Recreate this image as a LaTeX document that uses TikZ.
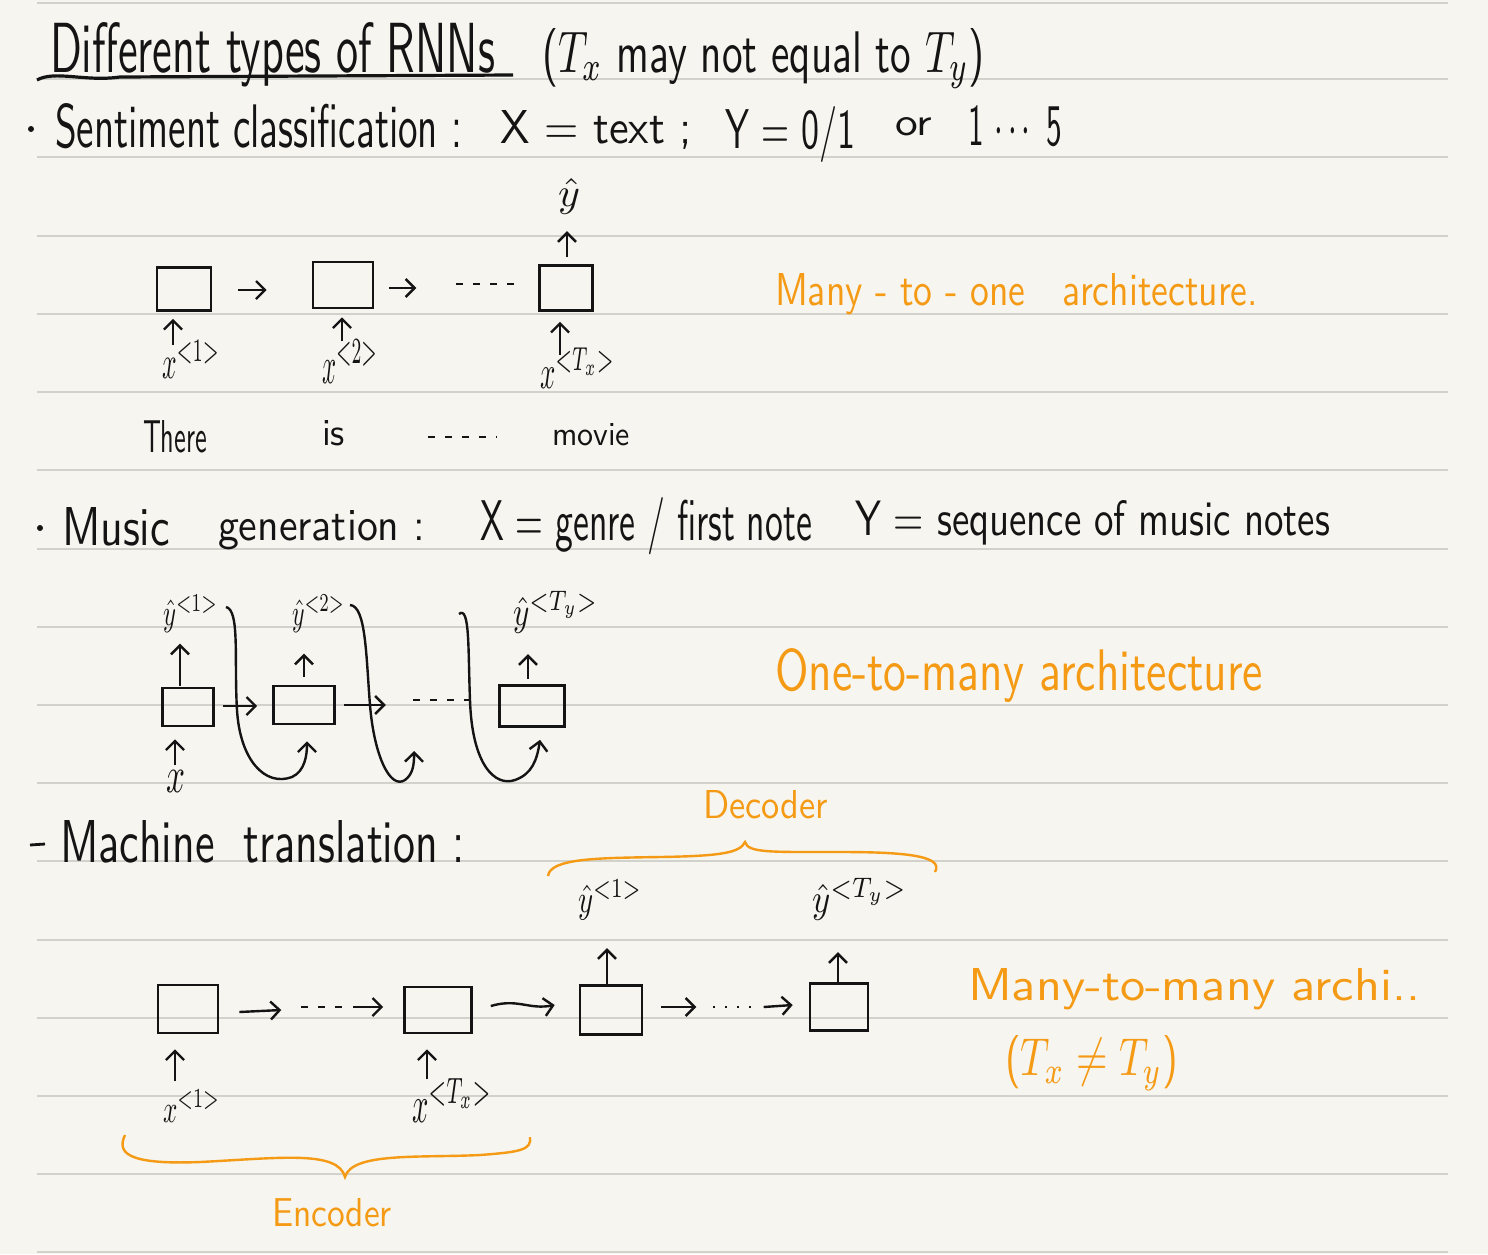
\documentclass[tikz,border=0pt]{standalone}
\usepackage{graphicx}
\usepackage{amsmath}
\usetikzlibrary{arrows.meta,calc}
\newlength\pxu \setlength\pxu{0.5pt}
\newcommand\hwfit[3]{\resizebox{#1\pxu}{#2\pxu}{#3}}
\definecolor{paper}{HTML}{F6F5EF}
\definecolor{ruleline}{HTML}{D2D2CD}
\definecolor{ink}{HTML}{141414}
\definecolor{hl}{HTML}{F59A14}
\tikzset{
  txt/.style={inner sep=0pt, outer sep=0pt, anchor=base west, font=\sffamily, text=ink},
  note/.style={txt, text=hl},
  cell/.style={draw=ink, line width=1.3pt, inner sep=0pt},
  arr/.style={-{Straight Barb[length=4.5pt,width=9pt]}, line width=1.2pt, draw=ink},
  pen/.style={line width=1.2pt, draw=ink},
  brace/.style={line width=1.2pt, draw=hl},
  dashln/.style={line width=1.1pt, draw=ink, dash pattern=on 7\pxu off 10\pxu},
  dotln/.style={line width=1.1pt, draw=ink, dash pattern=on 2\pxu off 10\pxu}
}
\begin{document}
\begin{tikzpicture}[x=0.5pt,y=-0.5pt]
\fill[paper] (0,0) rectangle (1488,1254);
\useasboundingbox (0,0) rectangle (1488,1254);
\foreach \yy in {3,79,157,236,314,392,470,549,627,705,783,861,940,1018,1096,1174,1252}
  \draw[ruleline, line width=1pt] (37,\yy) -- (1448,\yy);

% ---------- title ----------
\node[txt] (title) at (50,72) {\hwfit{445}{50}{Different types of RNNs}};
\draw[line width=1.6pt, ink] (37,80) .. controls (55,70) and (85,82) .. (120,77) -- (513,75);
\node[txt] (title2) at (542,72) {\hwfit{443}{44}{($T_x$ may not equal to $T_y$)}};

% ---------- sentiment line ----------
\fill[ink] (31,129) circle (3);
\node[txt] (s1) at (55,147) {\hwfit{407}{44}{Sentiment classification :}};
\node[txt] (s2) at (500,143) {\hwfit{192}{33}{X = text ;}};
\node[txt] (s3) at (725,148) {\hwfit{130}{42}{Y = 0/1}};
\node[txt] (s4) at (895,135) {\hwfit{37}{18}{or}};
\node[txt] (s5) at (968,145) {\hwfit{94}{40}{1 $\cdots$ 5}};

% ---------- many-to-one ----------
\node[cell, minimum width=54\pxu, minimum height=43\pxu] (b1) at (184,289) {};
\node[cell, minimum width=60\pxu, minimum height=46\pxu] (b2) at (343,285) {};
\node[cell, minimum width=53\pxu, minimum height=45\pxu] (b3) at (566,288) {};
\draw[arr] ($(b1.east)+(26,1)$) -- ($(b2.west)+(-45,5)$);
\draw[arr] ($(b2.east)+(15,3)$) -- ($(b2.east)+(42,3)$);
\draw[dashln] ($(b3.west)+(-82,-4)$) -- ($(b3.west)+(-20,-4)$);
\node[txt] (x1) at (162,378) {\hwfit{58}{38}{$x^{<1>}$}};
\node[txt] (x2) at (322,383) {\hwfit{56}{43}{$x^{<2>}$}};
\node[txt] (x3) at (540,388) {\hwfit{75}{40}{$x^{<T_x>}$}};
\draw[arr] ($(b1.south)+(-11,33)$) -- ($(b1.south)+(-11,7)$);
\draw[arr] ($(b2.south)+(-1,32)$) -- ($(b2.south)+(-1,8)$);
\draw[arr] ($(b3.south)+(-6,43)$) -- ($(b3.south)+(-6,10)$);
\node[txt] (yh) at (558,206) {\hwfit{22}{28}{$\hat{y}$}};
\draw[arr] ($(b3.north)+(1,-7)$) -- ($(b3.north)+(1,-33)$);
\node[txt] (w1) at (143,452) {\hwfit{64}{32}{There}};
\node[txt] (w2) at (322,445) {\hwfit{23}{25}{is}};
\draw[dashln] (428,437) -- (497,437);
\node[txt] (w3) at (552,445) {\hwfit{78}{22}{movie}};
\node[note] (n1) at (775,305) {\hwfit{483}{32}{Many - to - one \ \ architecture.}};

% ---------- music line ----------
\fill[ink] (40,528) circle (3);
\node[txt] (m1t) at (62,545) {\hwfit{108}{38}{Music}};
\node[txt] (m2t) at (218,540) {\hwfit{207}{30}{generation :}};
\node[txt] (m3t) at (480,540) {\hwfit{332}{43}{X = genre / first note}};
\node[txt] (m4t) at (855,535) {\hwfit{475}{35}{Y = sequence of music notes}};

% ---------- one-to-many ----------
\node[cell, minimum width=51\pxu, minimum height=38\pxu] (m1) at (188,707) {};
\node[cell, minimum width=61\pxu, minimum height=38\pxu] (m2) at (304,705) {};
\node[cell, minimum width=65\pxu, minimum height=41\pxu] (m3) at (532,706) {};
\node[txt] (mx) at (166,792) {\hwfit{19}{22}{$x$}};
\draw[arr] ($(m1.south)+(-13,38)$) -- ($(m1.south)+(-13,12)$);
\node[txt] (my1) at (163,625) {\hwfit{55}{30}{$\hat{y}^{<1>}$}};
\node[txt] (my2) at (292,625) {\hwfit{53}{30}{$\hat{y}^{<2>}$}};
\node[txt] (my3) at (513,625) {\hwfit{85}{34}{$\hat{y}^{<T_y>}$}};
\draw[arr] ($(m1.north)+(-8,-1)$) -- ($(m1.north)+(-8,-43)$);
\draw[arr] ($(m2.north)+(0,-8)$) -- ($(m2.north)+(0,-31)$);
\draw[arr] ($(m3.north)+(-4,-5)$) -- ($(m3.north)+(-4,-30)$);
\draw[arr] ($(m1.east)+(8,-1)$) -- ($(m2.west)+(-15,1)$);
\draw[arr] ($(m2.east)+(8,0)$) -- ($(m2.east)+(50,0)$);
\draw[dashln] ($(m3.west)+(-85,-6)$) -- ($(m3.west)+(-25,-6)$);
\coordinate (f1) at (226,607);
\coordinate (f2) at (350,605);
\coordinate (f3) at (459,614);
\draw[arr] (f1) .. controls (240,610) and (234,660) .. (237,710)
  .. controls (240,760) and (265,787) .. (292,777)
  .. controls (305,771) and (307,755) .. ($(m2.south)+(3,16)$);
\draw[arr] (f2) .. controls (366,606) and (366,655) .. (370,705)
  .. controls (374,755) and (390,790) .. (405,780)
  .. controls (413,774) and (414,765) .. ($(m3.west)+(-84,45)$);
\draw[arr] (f3) .. controls (470,605) and (468,650) .. (470,700)
  .. controls (472,765) and (495,787) .. (515,780)
  .. controls (532,774) and (537,760) .. ($(m3.south)+(8,12)$);
\node[note] (n2) at (775,690) {\hwfit{488}{42}{One-to-many architecture}};

% ---------- machine translation ----------
\draw[pen, line width=1.4pt] (30,845) -- (45,844);
\node[txt] (t1) at (60,862) {\hwfit{405}{42}{Machine \ translation :}};
\node[note] (dec) at (703,818) {\hwfit{125}{28}{Decoder}};
\draw[brace] (548,876) .. controls (550,858) and (600,858) .. (660,857)
  .. controls (720,856) and (740,853) .. (745,842)
  .. controls (748,853) and (770,852) .. (840,852)
  .. controls (900,852) and (945,855) .. (935,872);

\node[cell, minimum width=60\pxu, minimum height=48\pxu] (e1) at (188,1009) {};
\node[cell, minimum width=67\pxu, minimum height=46\pxu] (e2) at (438,1010) {};
\node[cell, minimum width=62\pxu, minimum height=49\pxu] (d1) at (611,1010) {};
\node[cell, minimum width=58\pxu, minimum height=47\pxu] (d2) at (839,1007) {};
\draw[arr] ($(e1.east)+(20,3)$) -- ($(e1.east)+(62,1)$);
\draw[dashln] ($(e1.east)+(82,-2)$) -- ($(e2.west)+(-58,-3)$);
\draw[arr] ($(e2.west)+(-50,-3)$) -- ($(e2.west)+(-20,-3)$);
\draw[arr] ($(e2.east)+(18,-4)$) .. controls ($(e2.east)+(45,-12)$) and ($(d1.west)+(-50,0)$) .. ($(d1.west)+(-24,-5)$);
\draw[arr] ($(d1.east)+(18,-3)$) -- ($(d1.east)+(53,-3)$);
\draw[dotln] ($(d1.east)+(70,-3)$) -- ($(d2.west)+(-50,0)$);
\draw[arr] ($(d2.west)+(-45,0)$) -- ($(d2.west)+(-16,-2)$);
\node[txt] (ex1) at (163,1122) {\hwfit{57}{32}{$x^{<1>}$}};
\node[txt] (ex2) at (412,1122) {\hwfit{80}{44}{$x^{<T_x>}$}};
\draw[arr] ($(e1.south)+(-13,47)$) -- ($(e1.south)+(-13,15)$);
\draw[arr] ($(e2.south)+(-11,45)$) -- ($(e2.south)+(-11,15)$);
\node[txt] (dy1) at (578,912) {\hwfit{64}{32}{$\hat{y}^{<1>}$}};
\node[txt] (dy2) at (812,912) {\hwfit{95}{34}{$\hat{y}^{<T_y>}$}};
\draw[arr] ($(d1.north)+(-4,0)$) -- ($(d1.north)+(-4,-36)$);
\draw[arr] ($(d2.north)+(-1,0)$) -- ($(d2.north)+(-1,-30)$);
\draw[brace] (125,1135) .. controls (117,1152) and (125,1165) .. (200,1162)
  .. controls (280,1158) and (338,1150) .. (345,1177)
  .. controls (352,1152) and (420,1158) .. (480,1155)
  .. controls (520,1152) and (532,1150) .. (530,1137);
\node[note] (enc) at (272,1226) {\hwfit{120}{28}{Encoder}};
\node[note] (n3) at (968,1000) {\hwfit{452}{32}{Many-to-many archi..}};
\node[note] (n4) at (1005,1075) {\hwfit{173}{40}{($T_x \neq T_y$)}};
\end{tikzpicture}
\end{document}
